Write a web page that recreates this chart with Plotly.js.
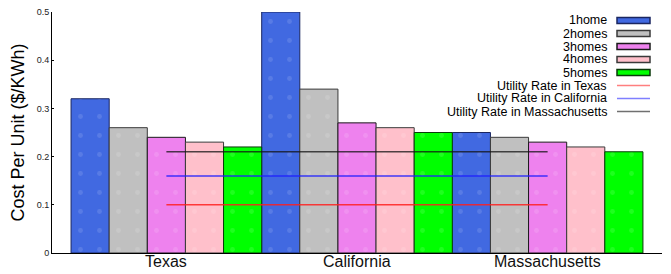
<!DOCTYPE html>
<html>
<head>
<meta charset="utf-8">
<script src="https://cdn.plot.ly/plotly-3.0.1.min.js"></script>
<style>html,body{margin:0;padding:0;background:#fff;}#chart{width:671px;height:274px;}</style>
</head>
<body>
<div id="chart"></div>
<script>
// ---- data ----
var states = ['Texas', 'California', 'Massachusetts'];
var seriesNames = ['1home', '2homes', '3homes', '4homes', '5homes'];
var home1 = [0.32, 0.50, 0.25];
var home2 = [0.26, 0.34, 0.24];
var home3 = [0.24, 0.27, 0.23];
var home4 = [0.23, 0.26, 0.22];
var home5 = [0.22, 0.25, 0.21];
var rateNames = ['Utility Rate in Texas', 'Utility Rate in California', 'Utility Rate in Massachusetts'];
var rateValues = [0.10, 0.16, 0.21];
var yTicks = [0, 0.1, 0.2, 0.3, 0.4, 0.5];
var yTickLabels = ['0', '0.1', '0.2', '0.3', '0.4', '0.5'];

// ---- styles ----
var barColors = ['#4169E1', '#C0C0C0', '#EE82EE', '#FFC0CB', '#00FF00'];
var barBorders = ['#1a2660', '#3a3a3a', '#1a1a1a', '#3a3a3a', '#0a3a0a'];
var lineColors = ['rgba(255,30,30,0.85)', 'rgba(30,30,255,0.85)', 'rgba(20,20,20,0.75)'];
var legendLineColors = ['#ff7f7f', '#7f7fff', '#707070'];
var font = 'Liberation Sans, Arial, Helvetica, sans-serif';

var seriesValues = [home1, home2, home3, home4, home5];
var traces = [];
seriesValues.forEach(function (vals, i) {
  traces.push({
    type: 'bar', name: seriesNames[i], x: states, y: vals,
    marker: {
      color: barColors[i],
      line: {color: barBorders[i], width: 1},
      pattern: {shape: '.', fillmode: 'overlay', bgcolor: barColors[i], fgcolor: '#ffffff', fgopacity: 0.12, size: 19, solidity: 0.05}
    },
    showlegend: false, hoverinfo: 'skip'
  });
});
rateValues.forEach(function (v, i) {
  traces.push({
    type: 'scatter', mode: 'lines', name: rateNames[i],
    x: states, y: states.map(function () { return v; }),
    line: {color: lineColors[i], width: 1.5},
    showlegend: false, hoverinfo: 'skip'
  });
});

// ---- manual legend (text left of sample, as in the reference) ----
var L = 52, R = 662, T = 12, B = 253;
function px(x) { return (x - L) / (R - L); }
function py(y) { return (B - y) / (B - T); }
var annotations = [], shapes = [];
var allNames = seriesNames.concat(rateNames);
allNames.forEach(function (name, i) {
  var yc = 20.5 + 13 * i;
  annotations.push({
    xref: 'paper', yref: 'paper', x: px(608), y: py(yc), xanchor: 'right', yanchor: 'middle',
    text: name, showarrow: false, font: {family: font, size: 12.5, color: '#000'},
    borderpad: 0
  });
  if (i < seriesNames.length) {
    shapes.push({
      type: 'rect', xref: 'paper', yref: 'paper',
      x0: px(617), x1: px(650), y0: py(yc + 3), y1: py(yc - 3),
      fillcolor: barColors[i], line: {color: barBorders[i], width: 1.5}
    });
  } else {
    var k = i - seriesNames.length;
    shapes.push({
      type: 'line', xref: 'paper', yref: 'paper',
      x0: px(617), x1: px(650), y0: py(yc), y1: py(yc),
      line: {color: legendLineColors[k], width: 1.5}
    });
  }
});
// category labels under the axis
states.forEach(function (s) {
  annotations.push({
    xref: 'x', yref: 'paper', x: s, y: 0, yanchor: 'top', yshift: 1,
    text: s, showarrow: false, borderpad: 0,
    font: {family: font, size: 16, color: '#111'}
  });
});

var layout = {
  width: 671, height: 274,
  margin: {l: L, r: 671 - R, t: T, b: 274 - B, pad: 0},
  paper_bgcolor: '#fff', plot_bgcolor: '#fff',
  barmode: 'group', bargap: 0, bargroupgap: 0,
  showlegend: false,
  font: {family: font, color: '#000'},
  xaxis: {
    type: 'category', range: [-0.6, 2.6], showgrid: false, zeroline: false,
    showline: true, linecolor: '#000', linewidth: 1, ticks: '', showticklabels: false,
    fixedrange: true
  },
  yaxis: {
    range: [0, 0.5], tickvals: yTicks, ticktext: yTickLabels,
    showgrid: false, zeroline: false, showline: true, linecolor: '#000', linewidth: 1,
    ticks: 'inside', ticklen: 2, tickcolor: '#000',
    tickfont: {family: font, size: 9, color: '#222'},
    title: {text: 'Cost Per Unit ($/KWh)', font: {family: font, size: 18, color: '#000'}, standoff: 7},
    fixedrange: true
  },
  annotations: annotations,
  shapes: shapes
};

Plotly.newPlot('chart', traces, layout, {staticPlot: true, displayModeBar: false});
</script>
</body>
</html>
